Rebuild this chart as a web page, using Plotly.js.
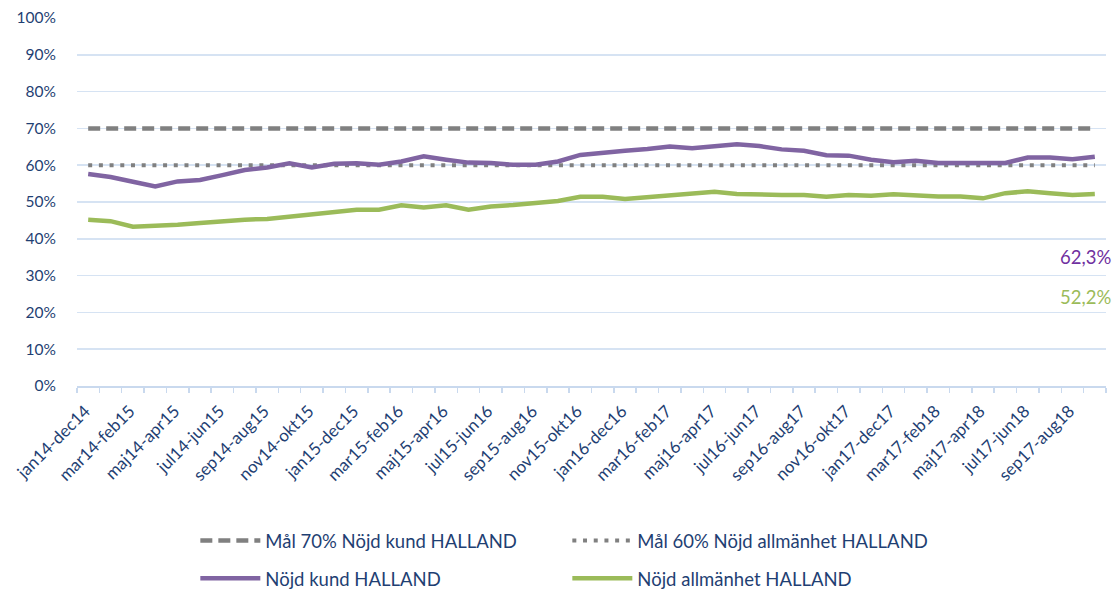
<!DOCTYPE html>
<html><head><meta charset="utf-8">
<script src="https://cdn.plot.ly/plotly-3.0.1.min.js"></script>
<style>html,body{margin:0;padding:0;background:#fff}#chart{width:1117px;height:592px}</style>
</head><body><div id="chart"></div>
<script>
const categories = [
  "jan14-dec14","feb14-jan15","mar14-feb15","apr14-mar15","maj14-apr15","jun14-maj15",
  "jul14-jun15","aug14-jul15","sep14-aug15","okt14-sep15","nov14-okt15","dec14-nov15",
  "jan15-dec15","feb15-jan16","mar15-feb16","apr15-mar16","maj15-apr16","jun15-maj16",
  "jul15-jun16","aug15-jul16","sep15-aug16","okt15-sep16","nov15-okt16","dec15-nov16",
  "jan16-dec16","feb16-jan17","mar16-feb17","apr16-mar17","maj16-apr17","jun16-maj17",
  "jul16-jun17","aug16-jul17","sep16-aug17","okt16-sep17","nov16-okt17","dec16-nov17",
  "jan17-dec17","feb17-jan18","mar17-feb18","apr17-mar18","maj17-apr18","jun17-maj18",
  "jul17-jun18","aug17-jul18","sep17-aug18","okt17-sep18"
];
const nojdKund = [
  57.6,56.8,55.5,54.2,55.6,56.0,57.3,58.7,59.4,60.5,59.4,60.4,
  60.5,60.1,61.0,62.4,61.5,60.7,60.6,60.1,60.1,61.0,62.8,63.5,
  63.9,64.4,65.1,64.6,65.2,65.7,65.2,64.3,63.9,62.7,62.6,61.5,
  60.8,61.2,60.6,60.6,60.6,60.6,62.1,62.1,61.6,62.3
];
const nojdAllmanhet = [
  45.2,44.8,43.3,43.4,43.8,44.3,44.9,45.2,45.4,46.0,46.5,47.1,
  47.9,47.9,49.1,48.5,49.1,47.9,48.8,49.2,49.7,50.3,51.4,51.4,
  50.8,51.3,51.6,52.4,52.8,52.2,51.9,51.9,51.9,51.4,51.9,51.7,
  52.1,51.7,51.5,51.5,51.0,52.4,52.9,52.4,51.9,52.2
];
const malKund = [
  70,70,70,70,70,70,70,70,70,70,70,70,70,70,70,70,70,70,70,70,70,70,70,
  70,70,70,70,70,70,70,70,70,70,70,70,70,70,70,70,70,70,70,70,70,70,70
];
const malAllmanhet = [
  60,60,60,60,60,60,60,60,60,60,60,60,60,60,60,60,60,60,60,60,60,60,60,
  60,60,60,60,60,60,60,60,60,60,60,60,60,60,60,60,60,60,60,60,60,60,60
];
const yTicks = [0,10,20,30,40,50,60,70,80,90,100];
const seriesNames = ["Mål 70% Nöjd kund HALLAND","Mål 60% Nöjd allmänhet HALLAND","Nöjd kund HALLAND","Nöjd allmänhet HALLAND"];

const xIdx = categories.map((c, i) => i);
const labelIdx = xIdx.filter(i => i % 2 === 0);
const fmt = v => v.toFixed(1).replace('.', ',') + '%';

const FONT = 'Lato, "Open Sans", sans-serif';
const TXT = '#1f3f73';

const traces = [
  {x: xIdx, y: malKund, name: seriesNames[0], type: 'scatter', mode: 'lines',
   line: {color: '#808080', width: 4.5, dash: '12px,6px'}, legend: 'legend'},
  {x: xIdx, y: malAllmanhet, name: seriesNames[1], type: 'scatter', mode: 'lines',
   line: {color: '#808080', width: 4, dash: '4px,6.7px'}, legend: 'legend'},
  {x: xIdx, y: nojdKund, name: seriesNames[2], type: 'scatter', mode: 'lines',
   line: {color: '#8064A2', width: 4.5}, legend: 'legend2'},
  {x: xIdx, y: nojdAllmanhet, name: seriesNames[3], type: 'scatter', mode: 'lines',
   line: {color: '#9BBB59', width: 4.5}, legend: 'legend2'}
];

const legendBase = {
  orientation: 'h', xanchor: 'left', yanchor: 'middle',
  entrywidth: 297, entrywidthmode: 'pixels', itemwidth: 60,
  font: {family: FONT, size: 18.5, color: TXT}, bgcolor: 'rgba(0,0,0,0)',
  traceorder: 'normal', itemclick: false
};

const layout = {
  width: 1117, height: 592,
  margin: {l: 77, r: 11, t: 18, b: 206, autoexpand: false},
  paper_bgcolor: '#fff', plot_bgcolor: '#fff',
  font: {family: FONT, color: TXT},
  xaxis: {
    type: 'linear', range: [-0.5, categories.length - 0.5],
    tickmode: 'array', tickvals: labelIdx, ticktext: labelIdx.map(i => categories[i]),
    tickangle: -45, ticks: '', showgrid: false, zeroline: false,
    showline: true, linecolor: '#c9d9ee', linewidth: 1.5,
    ticklabelstandoff: 7, ticklabelshift: -3,
    tickfont: {family: FONT, size: 17, color: TXT}, automargin: false,
    minor: {ticks: 'outside', tick0: -0.5, dtick: 1, ticklen: 5, tickcolor: '#c9d9ee', tickwidth: 1.5, showgrid: false}
  },
  yaxis: {
    range: [0, 100], tickmode: 'array', tickvals: yTicks, ticktext: yTicks.map(v => v + '%'),
    ticks: '', showgrid: true, gridcolor: '#d6e3f3', gridwidth: 1.5, zeroline: false,
    showline: false, ticklabelstandoff: 20, automargin: false,
    tickfont: {family: FONT, size: 15.5, color: TXT}
  },
  legend: Object.assign({}, legendBase, {x: 0.115, y: -0.421}),
  legend2: Object.assign({}, legendBase, {x: 0.115, y: -0.524}),
  annotations: [
    {x: xIdx[xIdx.length - 1], y: 35.0, xref: 'x', yref: 'y', text: fmt(nojdKund[nojdKund.length - 1]),
     showarrow: false, xshift: -9, font: {family: FONT, size: 18.5, color: '#7030A0'}},
    {x: xIdx[xIdx.length - 1], y: 24.2, xref: 'x', yref: 'y', text: fmt(nojdAllmanhet[nojdAllmanhet.length - 1]),
     showarrow: false, xshift: -9, font: {family: FONT, size: 18.5, color: '#9BBB59'}}
  ],
  showlegend: true
};

Plotly.newPlot('chart', traces, layout, {staticPlot: true, displayModeBar: false});
</script>
</body></html>
